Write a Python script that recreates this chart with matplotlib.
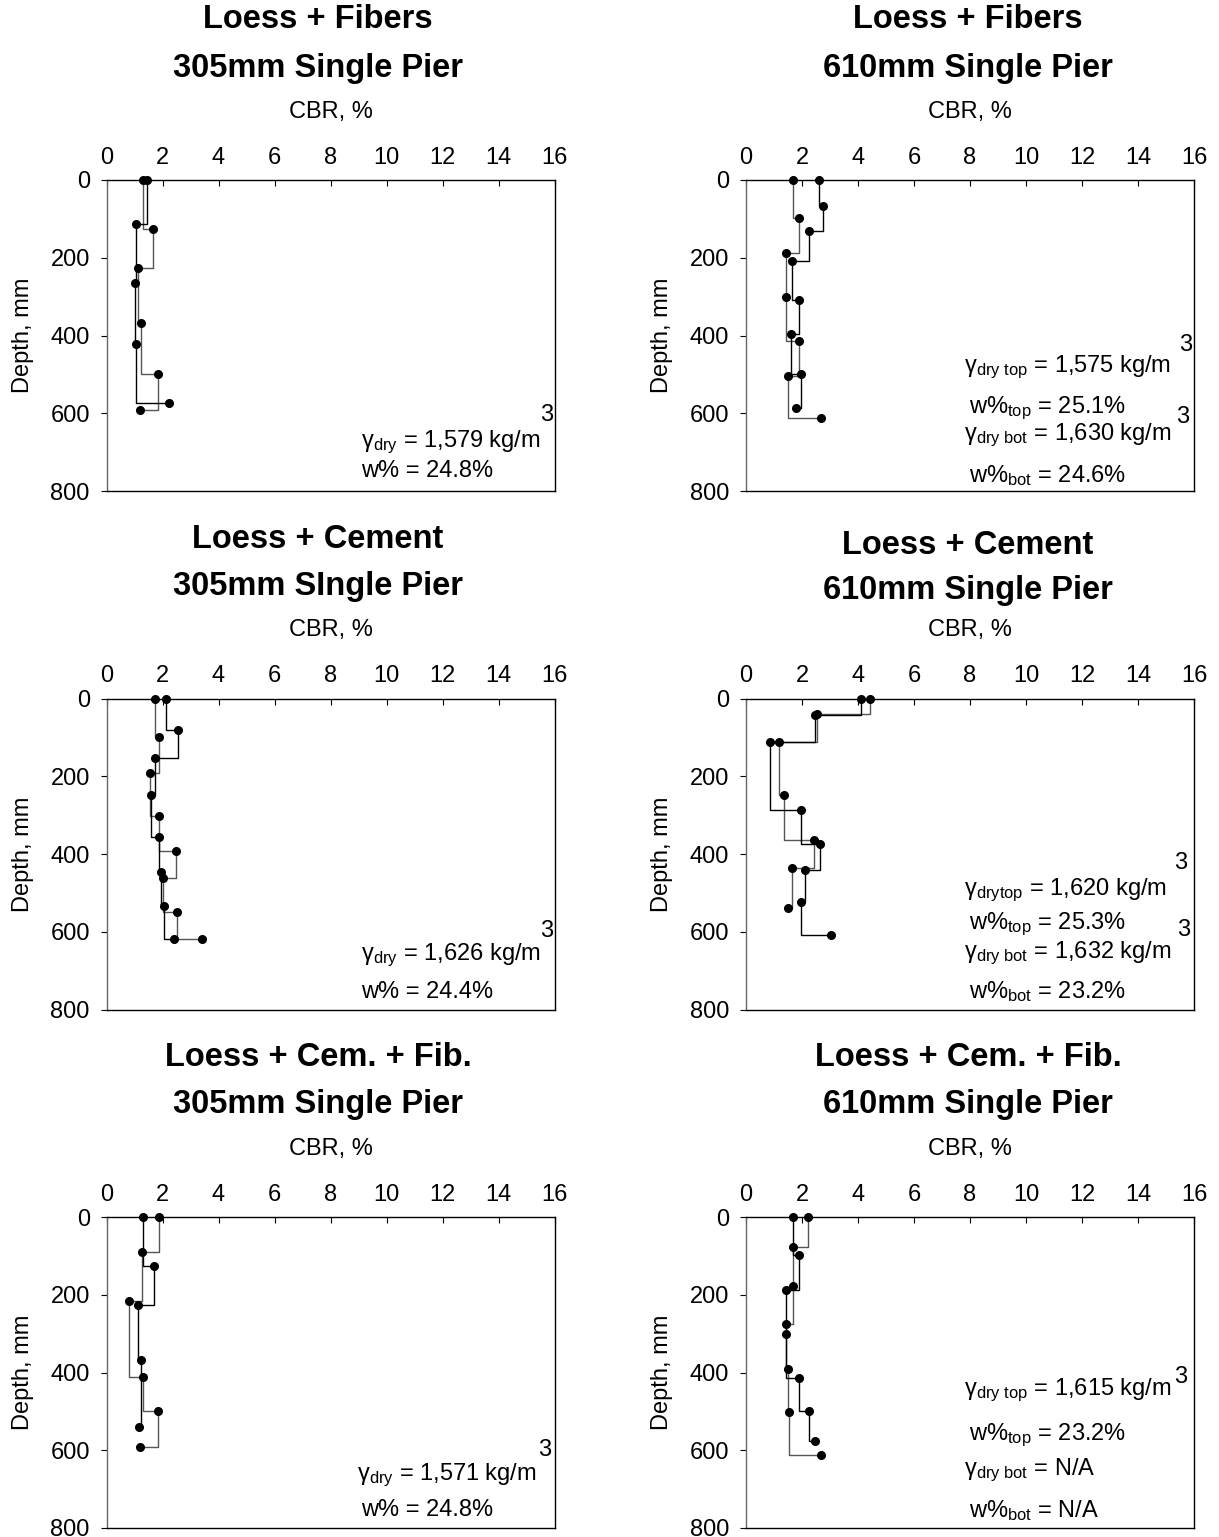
import matplotlib
matplotlib.use("Agg")
import matplotlib.pyplot as plt

plt.rcParams['font.family'] = ['Liberation Sans', 'DejaVu Sans']
plt.rcParams['mathtext.fontset'] = 'custom'
plt.rcParams['mathtext.rm'] = 'Liberation Sans'
plt.rcParams['mathtext.it'] = 'Liberation Sans:italic'
plt.rcParams['mathtext.bf'] = 'Liberation Sans:bold'

# ---- DCP profiles: CBR (%) vs depth (mm), two soundings per pier ----
# Loess + Fibers, 305 mm
lf305_a_cbr = [1.31, 1.67, 1.14, 1.24, 1.85, 1.19]
lf305_a_dep = [0, 126, 227, 369, 499, 591]
lf305_b_cbr = [1.46, 1.05, 1.01, 1.05, 2.23]
lf305_b_dep = [0, 112, 264, 421, 573]

# Loess + Fibers, 610 mm
lf610_a_cbr = [1.69, 1.90, 1.43, 1.42, 1.88, 1.51, 2.67]
lf610_a_dep = [0, 99, 189, 300, 415, 505, 612]
lf610_b_cbr = [2.62, 2.76, 2.24, 1.65, 1.90, 1.61, 1.98, 1.80]
lf610_b_dep = [0, 66, 130, 208, 309, 397, 500, 586]

# Loess + Cement, 305 mm
lc305_a_cbr = [1.72, 1.87, 1.54, 1.89, 2.49, 2.00, 2.52, 3.41]
lc305_a_dep = [0, 99, 191, 301, 393, 463, 549, 618]
lc305_b_cbr = [2.13, 2.54, 1.74, 1.59, 1.89, 1.95, 2.07, 2.40]
lc305_b_dep = [0, 82, 152, 249, 355, 447, 535, 618]

# Loess + Cement, 610 mm
lc610_a_cbr = [4.42, 2.54, 1.18, 1.35, 2.44, 1.64, 1.49]
lc610_a_dep = [0, 41, 111, 247, 365, 437, 539]
lc610_b_cbr = [4.10, 2.46, 0.87, 1.96, 2.63, 2.10, 1.98, 3.02]
lc610_b_dep = [0, 43, 111, 288, 375, 442, 524, 609]

# Loess + Cement + Fibers, 305 mm
lcf305_a_cbr = [1.89, 1.26, 0.80, 1.29, 1.85, 1.19]
lcf305_a_dep = [0, 90, 217, 412, 498, 591]
lcf305_b_cbr = [1.31, 1.68, 1.14, 1.24, 1.15]
lcf305_b_dep = [0, 125, 227, 368, 540]

# Loess + Cement + Fibers, 610 mm
lcf610_a_cbr = [2.20, 1.69, 1.69, 1.42, 1.49, 1.52, 2.67]
lcf610_a_dep = [0, 77, 177, 275, 390, 501, 613]
lcf610_b_cbr = [1.69, 1.90, 1.44, 1.42, 1.88, 2.24, 2.45]
lcf610_b_dep = [0, 99, 187, 301, 415, 499, 575]

titles = [
    ("Loess + Fibers", "305mm Single Pier"),
    ("Loess + Fibers", "610mm Single Pier"),
    ("Loess + Cement", "305mm SIngle Pier"),
    ("Loess + Cement", "610mm Single Pier"),
    ("Loess + Cem. + Fib.", "305mm Single Pier"),
    ("Loess + Cem. + Fib.", "610mm Single Pier"),
]

profiles = [
    ((lf305_a_cbr, lf305_a_dep), (lf305_b_cbr, lf305_b_dep)),
    ((lf610_a_cbr, lf610_a_dep), (lf610_b_cbr, lf610_b_dep)),
    ((lc305_a_cbr, lc305_a_dep), (lc305_b_cbr, lc305_b_dep)),
    ((lc610_a_cbr, lc610_a_dep), (lc610_b_cbr, lc610_b_dep)),
    ((lcf305_a_cbr, lcf305_a_dep), (lcf305_b_cbr, lcf305_b_dep)),
    ((lcf610_a_cbr, lcf610_a_dep), (lcf610_b_cbr, lcf610_b_dep)),
]

# notes: (x in CBR units, depth, text)
notes = [
    [(9.1, 676, r"γ$_{\mathrm{dry}}$ = 1,579 kg/m"), (15.5, 604, "3"),
     (9.1, 748, "w% = 24.8%")],
    [(7.8, 481, r"γ$_{\mathrm{dry\ top}}$ = 1,575 kg/m"), (15.45, 424, "3"),
     (7.95, 586, r"w%$_{\mathrm{top}}$ = 25.1%"), (15.35, 610, "3"),
     (7.8, 656, r"γ$_{\mathrm{dry\ bot}}$ = 1,630 kg/m"),
     (7.95, 759, r"w%$_{\mathrm{bot}}$ = 24.6%")],
    [(9.1, 660, r"γ$_{\mathrm{dry}}$ = 1,626 kg/m"), (15.5, 598, "3"),
     (9.1, 755, "w% = 24.4%")],
    [(7.8, 493, r"γ$_{\mathrm{drytop}}$ = 1,620 kg/m"), (15.3, 422, "3"),
     (7.95, 582, r"w%$_{\mathrm{top}}$ = 25.3%"), (15.4, 595, "3"),
     (7.8, 655, r"γ$_{\mathrm{dry\ bot}}$ = 1,632 kg/m"),
     (7.95, 755, r"w%$_{\mathrm{bot}}$ = 23.2%")],
    [(8.95, 664, r"γ$_{\mathrm{dry}}$ = 1,571 kg/m"), (15.4, 599, "3"),
     (9.1, 754, "w% = 24.8%")],
    [(7.8, 445, r"γ$_{\mathrm{dry\ top}}$ = 1,615 kg/m"), (15.3, 412, "3"),
     (7.95, 561, r"w%$_{\mathrm{top}}$ = 23.2%"),
     (7.8, 651, r"γ$_{\mathrm{dry\ bot}}$ = N/A"),
     (7.95, 754, r"w%$_{\mathrm{bot}}$ = N/A")],
]

W, H = 1219, 1537
fig = plt.figure(figsize=(W / 100, H / 100), dpi=100)

col_left = [106.5, 746]
row_top = [180, 698.5, 1217]
ax_w, ax_h = 448, 311
title_x = [318, 968]
title_y = [(20, 68, 112), (540, 587, 630), (1058, 1105, 1149)]
title_y_right = [(20, 68, 112), (545, 591, 630), (1057, 1105, 1149)]

FS = 17
for i in range(6):
    r, c = divmod(i, 2)
    left = col_left[c]
    top = row_top[r]
    ax = fig.add_axes([left / W, 1 - (top + ax_h) / H, ax_w / W, ax_h / H])
    (ca, da), (cb, db) = profiles[i]
    ax.plot(ca, da, drawstyle='steps-pre', color='#555555', lw=1.0, zorder=2)
    ax.plot(cb, db, drawstyle='steps-pre', color='black', lw=1.0, zorder=2)
    ax.plot(ca, da, ls='none', marker='o', ms=5.5, color='black', zorder=3, clip_on=False)
    ax.plot(cb, db, ls='none', marker='o', ms=5.5, color='black', zorder=3, clip_on=False)

    ax.set_xlim(0, 16)
    ax.set_ylim(800, 0)
    ax.set_xticks(range(0, 17, 2))
    ax.set_yticks(range(0, 801, 200))
    ax.xaxis.tick_top()
    ax.tick_params(axis='x', direction='in', length=4, width=0.8, labelsize=FS, pad=8)
    ax.tick_params(axis='y', direction='out', length=4, width=0.8, labelsize=FS, pad=8)
    ax.set_ylabel("Depth, mm", fontsize=FS, labelpad=12)
    for side in ['top', 'bottom', 'right']:
        ax.spines[side].set_color('black')
        ax.spines[side].set_linewidth(1.0)
    ax.spines['left'].set_color('#666666')
    ax.spines['left'].set_linewidth(1.0)

    for (x, d, s) in notes[i]:
        ax.text(x, d, s, fontsize=FS, ha='left', va='center')

    ty = title_y[r] if c == 0 else title_y_right[r]
    t1, t2 = titles[i]
    fig.text(title_x[c] / W, 1 - ty[0] / H, t1, fontsize=23.5, fontweight='bold',
             ha='center', va='center')
    fig.text(title_x[c] / W, 1 - ty[1] / H, t2, fontsize=23.5, fontweight='bold',
             ha='center', va='center')
    fig.text((left + ax_w / 2) / W, 1 - ty[2] / H, "CBR, %", fontsize=FS,
             ha='center', va='center')

fig.savefig("out.png", dpi=100)
